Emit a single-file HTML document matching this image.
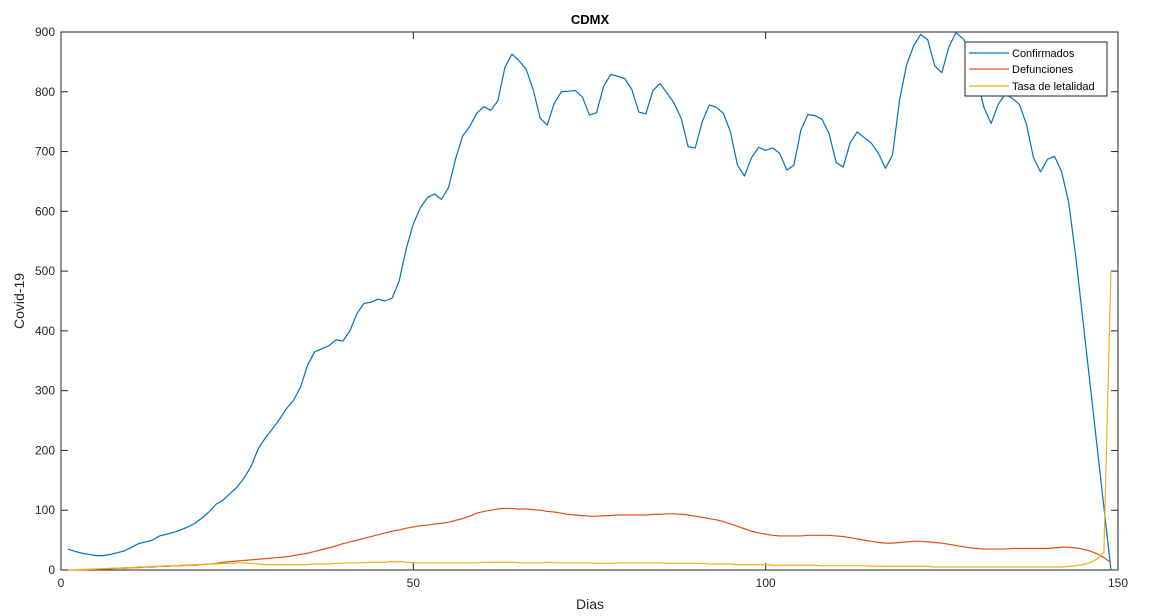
<!DOCTYPE html>
<html><head><meta charset="utf-8"><style>
body{margin:0;background:#fff;}
svg{display:block;font-family:"Liberation Sans",Arial,sans-serif;}
</style></head><body>
<svg id="chart" width="1154" height="616">
<rect x="0" y="0" width="1154" height="616" fill="#fff"/>
<text x="590" y="24" text-anchor="middle" font-size="13" font-weight="bold" fill="#000">CDMX</text>
<text x="590" y="609" text-anchor="middle" font-size="14" fill="#262626">Dias</text>
<text transform="translate(24,301) rotate(-90)" text-anchor="middle" font-size="14" fill="#262626">Covid-19</text>
<g id="axes"></g>
<g id="series"></g>
<g id="legend">
<rect x="965" y="42" width="142" height="54" fill="#fff" stroke="#262626" stroke-width="1"/>
<g><line x1="969" y1="53" x2="1009" y2="53" stroke="#0072BD" stroke-width="1.2"/><text x="1012" y="57" font-size="11" fill="#000">Confirmados</text></g>
<g><line x1="969" y1="69" x2="1009" y2="69" stroke="#D95319" stroke-width="1.2"/><text x="1012" y="73" font-size="11" fill="#000">Defunciones</text></g>
<g><line x1="969" y1="86" x2="1009" y2="86" stroke="#EDB120" stroke-width="1.2"/><text x="1012" y="90" font-size="11" fill="#000">Tasa de letalidad</text></g>
</g>
</svg>
<script>
const xTicks=[0,50,100,150];
const yTicks=[0,100,200,300,400,500,600,700,800,900];
const confirmados=[35,31,28,26,24,24,26,29,32,38,
44,47,50,57,60,63,67,72,78,87,
97,110,117,128,139,154,174,203,221,236,
252,270,284,306,343,365,370,375,385,383,
400,429,446,448,453,450,455,484,538,579,
606,623,629,620,640,688,726,742,764,775,
769,785,841,863,852,838,804,756,744,781,
800,801,802,791,761,765,809,829,826,822,
804,766,763,802,814,798,781,756,708,706,
750,778,774,764,733,677,659,690,707,702,
706,697,669,677,736,762,760,754,730,682,
674,715,733,723,714,697,672,694,786,845,
877,896,887,843,832,875,899,889,870,820,
773,747,779,796,789,779,746,690,666,687,
692,666,615,525,420,315,210,105,0];
const defunciones=[0,0,0,1,1,2,2,3,3,4,
4,5,5,6,6,7,7,8,8,9,
10,11,13,14,15,16,17,18,19,20,
21,22,24,26,28,31,34,37,40,44,
47,50,53,56,59,62,65,67,70,72,
74,75,77,78,80,83,86,90,95,98,
100,102,103,103,102,102,101,100,98,97,
95,93,92,91,90,90,91,91,92,92,
92,92,92,93,93,94,94,93,92,90,
88,86,84,81,77,73,69,65,62,60,
58,57,57,57,57,58,58,58,58,57,
56,54,52,50,48,46,45,45,46,47,
48,48,47,46,45,43,41,39,37,36,
35,35,35,35,36,36,36,36,36,36,
37,38,38,37,35,32,27,21,12];
const tasa=[0,0,1,1,2,2,3,3,4,4,
5,5,6,6,7,7,8,8,9,9,
10,10,11,11,12,12,11,10,9,9,
9,9,9,9,9,10,10,10,11,11,
12,12,12,13,13,13,14,14,13,12,
12,12,12,12,12,12,12,12,12,13,
13,13,13,13,12,12,12,12,13,12,
12,12,12,12,12,11,11,11,12,12,
12,12,12,12,12,11,11,11,11,11,
11,10,10,10,10,9,9,9,9,9,
8,8,8,8,8,8,8,7,7,7,
7,7,7,7,6,6,6,6,6,6,
6,6,6,5,5,5,5,5,5,5,
5,5,5,5,5,5,5,5,5,5,
5,5,6,7,9,12,18,30,500];
const L=61,R=1118,T=32,B=570;
const X=v=>L+(v-0)/150*(R-L);
const Y=v=>B-(v-0)/900*(B-T);
const NS='http://www.w3.org/2000/svg';
const axes=document.getElementById('axes');
function mk(tag,attrs,parent){const e=document.createElementNS(NS,tag);for(const k in attrs)e.setAttribute(k,attrs[k]);parent.appendChild(e);return e;}
const box=mk('rect',{x:L,y:T,width:R-L,height:B-T,fill:'none',stroke:'#262626','stroke-width':1},axes);


xTicks.forEach(t=>{
  const x=X(t);
  const tb=mk('line',{x1:x,y1:B,x2:x,y2:B-7,stroke:'#262626'},axes);
  
  
  const tt=mk('line',{x1:x,y1:T,x2:x,y2:T+7,stroke:'#262626'},axes);
  
  
  const lb=mk('text',{x:x,y:B+17,'text-anchor':'middle','font-size':12,fill:'#262626'},axes);
  lb.textContent=t;
  
  
});
yTicks.forEach(t=>{
  const y=Y(t);
  const tl=mk('line',{x1:L,y1:y,x2:L+7,y2:y,stroke:'#262626'},axes);
  
  
  const tr=mk('line',{x1:R,y1:y,x2:R-7,y2:y,stroke:'#262626'},axes);
  
  
  const lb=mk('text',{x:L-6,y:y+4,'text-anchor':'end','font-size':12,fill:'#262626'},axes);
  lb.textContent=t;
  
  
});
const series=document.getElementById('series');
function line(arr,color,name){
  const pts=arr.map((v,i)=>X(i+1).toFixed(2)+','+Y(v).toFixed(2)).join(' ');
  const p=mk('polyline',{points:pts,fill:'none',stroke:color,'stroke-width':1.2,'stroke-linejoin':'round'},series);
  
  
}
line(confirmados,'#0072BD','confirmados-line');
line(defunciones,'#D95319','defunciones-line');
line(tasa,'#EDB120','tasa-letalidad-line');
</script>
</body></html>
